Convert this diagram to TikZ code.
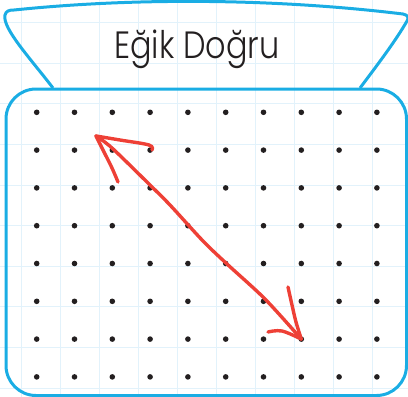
\documentclass[tikz,border=0pt]{standalone}
\usepackage{fontspec}
\setmainfont{Poppins}[FakeStretch=0.84]
\newfontfamily\titlefont{Poppins Light}[FakeStretch=0.84]
\usepackage{tikz}
\usetikzlibrary{positioning, calc}
\definecolor{frameBlue}{HTML}{1AADE4}
\definecolor{gridBlue}{HTML}{E2F2FB}
\definecolor{penRed}{HTML}{EE4036}
\definecolor{inkBlack}{HTML}{231F20}

\begin{document}
\begin{tikzpicture}[
    x=1pt, y=-1pt,
    gridline/.style={draw=gridBlue, line width=1pt},
    frame/.style={draw=frameBlue, line width=3pt, line join=round},
    dot/.style={circle, fill=inkBlack, inner sep=0pt, minimum size=5.6pt},
    redpen/.style={draw=penRed, line width=3.4pt, line cap=round, line join=round},
    titletext/.style={font=\titlefont\fontsize{38}{40}\selectfont, text=inkBlack, inner sep=0pt}
]
\useasboundingbox (0,0) rectangle (408,397);

% ============== Kareli zemin ==============
\foreach \k in {0,...,9} {
  \draw[gridline] (21+39.1*\k,0) -- (21+39.1*\k,397);
  \draw[gridline] (0,22.6+40.6*\k) -- (408,22.6+40.6*\k);
}

% ============== Baslik seridi ==============
\draw[frame] (53,88) .. controls (30,58) and (2,28) .. (5,15)
  .. controls (6,11) and (9,10) .. (14,10)
  .. controls (140,-3) and (280,-1) .. (403,14)
  .. controls (408,15) and (409,18) .. (407,21)
  .. controls (395,42) and (375,68) .. (360,88);
\node[titletext, anchor=base] (title) at (197,58) {Eğik Doğru};

% ============== Nokta tablosu ==============
\draw[frame, rounded corners=30pt] (6,89) rectangle (406.5,395.5);
\foreach \i in {0,...,9} {
  \foreach \j in {0,...,7} {
    \node[dot] (d-\i-\j) at (36.7+37.8*\i,112.3+37.8*\j) {};
  }
}

% ============== Egik dogru (elle cizilmis ok) ==============
\coordinate (tipA) at (96,136);
\coordinate (tipB) at (d-7-6.center);
\draw[redpen] plot[smooth, tension=0.5] coordinates {(tipA) (112,148) (150,185) (170,205) (203,241) (227,264) (265,299) (tipB)};
\draw[redpen] plot[smooth, tension=0.6] coordinates {(152,150) (149,145) (120,140) (tipA)};
\draw[redpen] plot[smooth, tension=0.6] coordinates {(tipA) (104,152) (112,168) (118,182)};
\draw[redpen] plot[smooth, tension=0.6] coordinates {(288,287) (292,305) (296,322) (tipB)};
\draw[redpen] plot[smooth, tension=0.6] coordinates {(268,332) (282,331) (tipB)};
\end{tikzpicture}
\end{document}
